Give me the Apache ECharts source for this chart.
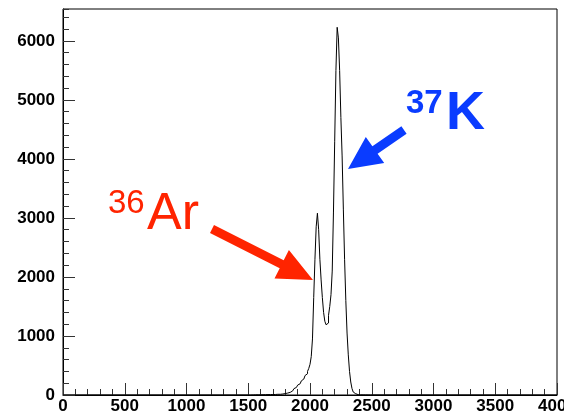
<!DOCTYPE html>
<html>
<head>
<meta charset="utf-8">
<script src="https://cdn.jsdelivr.net/npm/echarts@6/dist/echarts.min.js"></script>
<style>
  html, body { margin: 0; padding: 0; background: #fff; }
  #chart { width: 564px; height: 415px; }
</style>
</head>
<body>
<div id="chart"></div>
<script>
// histogram bins, lower edge = binStart + i * binWidth
const binStart = 1500;
const binWidth = 10;
const counts = [
  1, 0, 2, 1, 2, 3, 2, 3, 4, 3,
  4, 5, 4, 6, 5, 7, 6, 8, 9, 8,
  10, 9, 11, 12, 11, 12, 14, 17, 20, 24,
  28, 33, 38, 45, 55, 70, 88, 108, 128, 148,
  168, 190, 212, 240, 270, 300, 330, 360, 400, 450,
  520, 650, 950, 1650, 2300, 2850, 3080, 2800, 2300, 1950,
  1650, 1400, 1250, 1190, 1220, 1350, 1500, 1700, 2100, 3100,
  4300, 5500, 6230, 6050, 5500, 4700, 4050, 3150, 2300, 1600,
  1050, 680, 400, 220, 110, 50, 22, 10, 6, 4,
  3, 2, 2, 1, 2, 1, 1, 0, 1, 0
];
const xRange = [0, 4000];
const yMax = 6540;

const font = '"Liberation Sans", Arial, sans-serif';

// step points for the histogram outline
const histData = [[xRange[0], 0]];
counts.forEach((c, i) => histData.push([binStart + i * binWidth, c]));
histData.push([binStart + counts.length * binWidth, 0]);
histData.push([xRange[1], 0]);

const red = "#ff2400";
const blue = "#0a3cff";

const plainNum = (v) => String(v);

const option = {
  animation: false,
  grid: {
    left: 63,
    right: 7,
    top: 9,
    bottom: 20,
    outerBoundsMode: "none",
    containLabel: false,
    show: true,
    borderColor: "#000",
    borderWidth: 1
  },
  xAxis: {
    type: "value",
    min: xRange[0],
    max: xRange[1],
    interval: 500,
    axisLine: { lineStyle: { color: "#000", width: 1 } },
    axisTick: { inside: true, length: 12, lineStyle: { color: "#333" } },
    minorTick: { show: true, splitNumber: 5, length: 6, lineStyle: { color: "#333" } },
    splitLine: { show: false },
    axisLabel: { color: "#000", fontWeight: "bold", fontSize: 17, fontFamily: font, margin: 3, formatter: plainNum, hideOverlap: false }
  },
  yAxis: [
    {
      type: "value",
      min: 0,
      max: yMax,
      interval: 1000,
      axisLine: { show: true, lineStyle: { color: "#000", width: 1 } },
      axisTick: { show: true, inside: true, length: 12, lineStyle: { color: "#333" } },
      splitLine: { show: false },
      axisLabel: { color: "#000", fontWeight: "bold", fontSize: 17, fontFamily: font, margin: 8, showMaxLabel: false, formatter: plainNum }
    },
    {
      // minor ticks every 200
      type: "value",
      position: "left",
      min: 0,
      max: yMax,
      interval: 200,
      axisLine: { show: false },
      axisTick: { show: true, inside: true, length: 6, lineStyle: { color: "#333" } },
      splitLine: { show: false },
      axisLabel: { show: false }
    }
  ],
  series: [
    {
      type: "line",
      step: "end",
      data: histData,
      showSymbol: false,
      symbol: "none",
      lineStyle: { color: "#000", width: 1 },
      z: 3
    }
  ],
  graphic: [
    {
      type: "polygon",
      shape: { points: [[214, 225], [283.7, 260.2], [288.9, 249.9], [313, 280], [274.5, 278.5], [279.7, 268.2], [210, 233]] },
      style: { fill: red }
    },
    {
      type: "polygon",
      shape: { points: [[401.4, 126.3], [372.4, 146.3], [365.8, 136.9], [348, 169], [384.2, 163.1], [377.6, 153.7], [406.6, 133.7]] },
      style: { fill: blue }
    },
    { type: "text", x: 108, y: 204, style: { text: "36", fill: red, font: "33px " + font, verticalAlign: "middle" } },
    { type: "text", x: 147, y: 215, style: { text: "Ar", fill: red, font: "52px " + font, verticalAlign: "middle" } },
    { type: "text", x: 406, y: 104, style: { text: "37", fill: blue, font: "bold 33px " + font, verticalAlign: "middle" } },
    { type: "text", x: 446, y: 114, style: { text: "K", fill: blue, font: "bold 54px " + font, verticalAlign: "middle" } }
  ]
};

const myChart = echarts.init(document.getElementById("chart"));
myChart.setOption(option);
</script>
</body>
</html>
